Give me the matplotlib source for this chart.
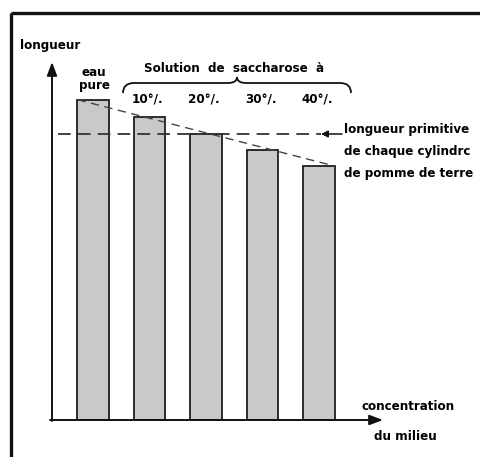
import numpy as np
import matplotlib.pyplot as plt
from matplotlib.path import Path
from matplotlib.patches import PathPatch, Rectangle

# longueur des cylindres de pomme de terre selon le milieu
milieux = ['eau\npure', '10°/.', '20°/.', '30°/.', '40°/.']
longueurs = [56.0, 53.0, 50.0, 47.2, 44.4]
longueur_initiale = 50.0

plt.rcParams['font.family'] = ['DejaVu Sans']
plt.rcParams['font.weight'] = 'bold'
plt.rcParams['font.stretch'] = 'condensed'

W, H = 480, 457
fig = plt.figure(figsize=(W / 100, H / 100), dpi=100)

# axes des données : origine au pixel (52, 420)
x0, y0, x1, y1 = 52, 420, 382, 63
ax = fig.add_axes([x0 / W, 1 - y0 / H, (x1 - x0) / W, (y0 - y1) / H])
pas = 56.5
ax.set_xlim((x0 - 93) / pas, (x1 - 93) / pas)
ax.set_ylim(0, (y0 - y1) / 5.72)
ax.axis('off')

x = np.arange(len(longueurs))
larg = 0.55
ax.bar(x, longueurs, width=larg, color='#c9c9c9', edgecolor='#1e1e1e',
       linewidth=1.3, zorder=2)

# longueur primitive
ax.plot([(58 - 93) / pas, (321 - 93) / pas], [longueur_initiale] * 2,
        color='#333333', lw=1.3, ls=(0, (7, 4)), zorder=3)
# tendance des longueurs finales
ax.plot([x[0] - larg / 2, x[-1] + larg / 2], [longueurs[0], longueurs[-1]],
        color='#444444', lw=1.0, ls=(0, (6, 4)), zorder=3)

# calque en pixels pour le cadre, les flèches et les textes
ov = fig.add_axes([0, 0, 1, 1])
ov.set_xlim(0, W)
ov.set_ylim(H, 0)
ov.axis('off')
ov.patch.set_alpha(0)

ov.add_patch(Rectangle((11, 13), 500, 500, fill=False, lw=2.4,
                       edgecolor='#111111'))

fleche = dict(arrowstyle='-|>,head_length=0.8,head_width=0.3',
              color='#111111', lw=1.4, shrinkA=0, shrinkB=0)
ov.annotate('', xy=(52, 62), xytext=(52, 421), arrowprops=fleche)
ov.annotate('', xy=(383, 420), xytext=(50, 420), arrowprops=fleche)

ov.annotate('', xy=(321, 134), xytext=(342, 134),
            arrowprops=dict(arrowstyle='-|>,head_length=0.4,head_width=0.2',
                            color='#111111', lw=1.1, shrinkA=0, shrinkB=0))

# accolade au-dessus des solutions
verts = [(123, 93), (123, 83), (134, 83), (228, 83), (237, 83), (237, 77),
         (237, 83), (246, 83), (340, 83), (351, 83), (351, 93)]
codes = [Path.MOVETO, Path.CURVE3, Path.CURVE3, Path.LINETO, Path.CURVE3,
         Path.CURVE3, Path.CURVE3, Path.CURVE3, Path.LINETO, Path.CURVE3,
         Path.CURVE3]
ov.add_patch(PathPatch(Path(verts, codes), fill=False, lw=1.3,
                       edgecolor='#111111'))

fs = 9.5
ov.text(20, 45, 'longueur', fontsize=fs, va='center', ha='left')
ov.text(94, 79, milieux[0], fontsize=fs, ha='center', va='center',
        linespacing=1.0)
for i, lab in enumerate(milieux[1:], start=1):
    ov.text(93 + i * pas - 2, 100, lab, fontsize=fs, ha='center', va='center')
ov.text(234, 69, 'Solution  de  saccharose  à', fontsize=fs,
        ha='center', va='center')
ov.text(344, 130, 'longueur primitive', fontsize=fs, va='center')
ov.text(344, 152, 'de chaque cylindrc', fontsize=fs, va='center')
ov.text(344, 173, 'de pomme de terre', fontsize=fs, va='center')
ov.text(362, 407, 'concentration', fontsize=fs, va='center')
ov.text(374, 436, 'du milieu', fontsize=fs, va='center')

fig.savefig('out.png', dpi=100)
